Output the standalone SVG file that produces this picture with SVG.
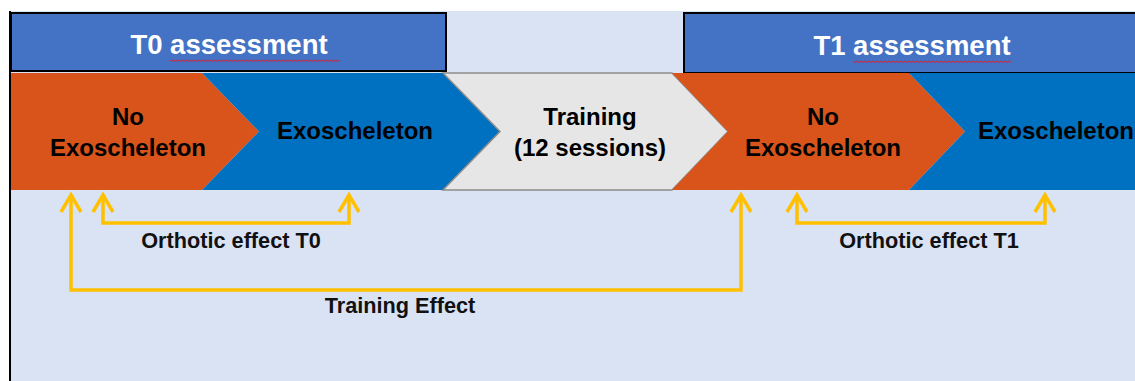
<svg xmlns="http://www.w3.org/2000/svg" width="1135" height="381" viewBox="0 0 1135 381">
  <defs>
    <style>
      .title { fill: #4472C4; stroke: #000; stroke-width: 2; }
      .title-text { font-family: "Liberation Sans", Arial, sans-serif; font-weight: bold; font-size: 27.5px; fill: #fff; text-anchor: middle; }
      .orange { fill: #D9541A; }
      .blue { fill: #0070C0; }
      .grey { fill: #E7E6E6; stroke: #8C8C8C; stroke-width: 1.5; }
      .step { font-family: "Liberation Sans", Arial, sans-serif; font-weight: bold; font-size: 24px; fill: #000; text-anchor: middle; }
      .label { font-family: "Liberation Sans", Arial, sans-serif; font-weight: bold; font-size: 21.7px; fill: #111; text-anchor: middle; }
      .link { fill: none; stroke: #FFC000; stroke-width: 3.5; stroke-linejoin: miter; }
      .squiggle { fill: none; stroke: #E0202A; stroke-width: 1; }
    </style>
    <marker id="open-head" markerUnits="userSpaceOnUse" viewBox="-20 -12 24 24" markerWidth="24" markerHeight="24" refX="0" refY="0" orient="auto-start-reverse">
      <path d="M-17,-10 L0,0 L-17,10" fill="none" stroke="#FFC000" stroke-width="3.5"/>
    </marker>
  </defs>

  <!-- page background -->
  <rect x="0" y="0" width="1135" height="381" fill="#fff"/>
  <rect x="10" y="11" width="1125" height="370" fill="#DAE3F3"/>
  <line x1="10" y1="11" x2="10" y2="381" stroke="#000" stroke-width="2"/>

  <!-- assessment headers -->
  <g id="t0-assessment">
    <rect class="title" x="11" y="13" width="435" height="58"/>
    <text class="title-text" x="229" y="54">T0 assessment</text>
    <path class="squiggle" d="M170,60 l2,1.5 l2,-1.5 l2,1.5 l2,-1.5 l2,1.5 l2,-1.5 l2,1.5 l2,-1.5 l2,1.5 l2,-1.5 l2,1.5 l2,-1.5 l2,1.5 l2,-1.5 l2,1.5 l2,-1.5 l2,1.5 l2,-1.5 l2,1.5 l2,-1.5 l2,1.5 l2,-1.5 l2,1.5 l2,-1.5 l2,1.5 l2,-1.5 l2,1.5 l2,-1.5 l2,1.5 l2,-1.5 l2,1.5 l2,-1.5 l2,1.5 l2,-1.5 l2,1.5 l2,-1.5 l2,1.5 l2,-1.5 l2,1.5 l2,-1.5 l2,1.5 l2,-1.5 l2,1.5 l2,-1.5 l2,1.5 l2,-1.5 l2,1.5 l2,-1.5 l2,1.5 l2,-1.5 l2,1.5 l2,-1.5 l2,1.5 l2,-1.5 l2,1.5 l2,-1.5 l2,1.5 l2,-1.5 l2,1.5 l2,-1.5 l2,1.5 l2,-1.5 l2,1.5 l2,-1.5 l2,1.5 l2,-1.5 l2,1.5 l2,-1.5 l2,1.5 l2,-1.5 l2,1.5 l2,-1.5 l2,1.5 l2,-1.5 l2,1.5 l2,-1.5 l2,1.5 l2,-1.5 l2,1.5 l2,-1.5 l2,1.5 l2,-1.5 l2,1.5 l2,-1.5 l2,1.5"/>
  </g>
  <g id="t1-assessment">
    <rect class="title" x="684" y="13" width="460" height="60"/>
    <text class="title-text" x="912" y="55">T1 assessment</text>
    <path class="squiggle" d="M853,61 l2,1.5 l2,-1.5 l2,1.5 l2,-1.5 l2,1.5 l2,-1.5 l2,1.5 l2,-1.5 l2,1.5 l2,-1.5 l2,1.5 l2,-1.5 l2,1.5 l2,-1.5 l2,1.5 l2,-1.5 l2,1.5 l2,-1.5 l2,1.5 l2,-1.5 l2,1.5 l2,-1.5 l2,1.5 l2,-1.5 l2,1.5 l2,-1.5 l2,1.5 l2,-1.5 l2,1.5 l2,-1.5 l2,1.5 l2,-1.5 l2,1.5 l2,-1.5 l2,1.5 l2,-1.5 l2,1.5 l2,-1.5 l2,1.5 l2,-1.5 l2,1.5 l2,-1.5 l2,1.5 l2,-1.5 l2,1.5 l2,-1.5 l2,1.5 l2,-1.5 l2,1.5 l2,-1.5 l2,1.5 l2,-1.5 l2,1.5 l2,-1.5 l2,1.5 l2,-1.5 l2,1.5 l2,-1.5 l2,1.5 l2,-1.5 l2,1.5 l2,-1.5 l2,1.5 l2,-1.5 l2,1.5 l2,-1.5 l2,1.5 l2,-1.5 l2,1.5 l2,-1.5 l2,1.5 l2,-1.5 l2,1.5 l2,-1.5 l2,1.5 l2,-1.5 l2,1.5 l2,-1.5 l2,1.5"/>
  </g>

  <!-- process chevrons -->
  <g id="t0-no-exo">
    <polygon class="orange" points="11,73 202,73 259,131.5 202,190 11,190"/>
    <text class="step" x="128" y="125">No</text>
    <text class="step" x="128" y="156">Exoscheleton</text>
  </g>
  <g id="t0-exo">
    <polygon class="blue" points="202,73 443,73 500,131.5 443,190 202,190 259,131.5"/>
    <text class="step" x="355" y="139">Exoscheleton</text>
  </g>
  <g id="training">
    <polygon class="grey" points="443,73 672,73 728,131.5 672,190 443,190 500,131.5"/>
    <text class="step" x="590" y="125">Training</text>
    <text class="step" x="590" y="156">(12 sessions)</text>
  </g>
  <g id="t1-no-exo">
    <polygon class="orange" points="672,73 909,73 965,131.5 909,190 672,190 728,131.5"/>
    <text class="step" x="823" y="125">No</text>
    <text class="step" x="823" y="156">Exoscheleton</text>
  </g>
  <g id="t1-exo">
    <polygon class="blue" points="909,73 1135,73 1135,190 909,190 965,131.5"/>
    <text class="step" x="1056" y="139">Exoscheleton</text>
  </g>

  <!-- effect connectors -->
  <g id="connectors">
    <path class="link" d="M103,195 V223 H349 V195" marker-start="url(#open-head)" marker-end="url(#open-head)"/>
    <path class="link" d="M71,195 V290 H741 V195" marker-start="url(#open-head)" marker-end="url(#open-head)"/>
    <path class="link" d="M797,195 V223 H1045 V195" marker-start="url(#open-head)" marker-end="url(#open-head)"/>
    <text class="label" x="231" y="248">Orthotic effect T0</text>
    <text class="label" x="929" y="248">Orthotic effect T1</text>
    <text class="label" x="400" y="313">Training Effect</text>
  </g>
</svg>
